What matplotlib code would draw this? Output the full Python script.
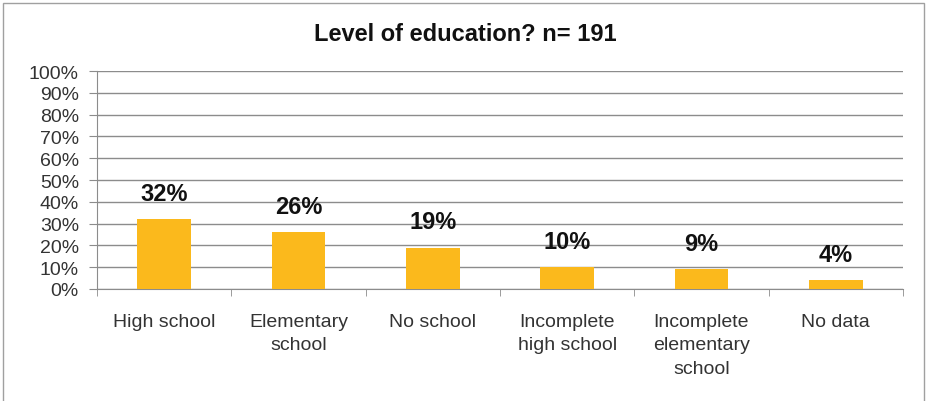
import matplotlib.pyplot as plt
from matplotlib.patches import Rectangle

plt.rcParams['font.family'] = ['Liberation Sans', 'DejaVu Sans']

# Nível de escolaridade dos respondentes
categories = ['High school', 'Elementary\nschool', 'No school',
              'Incomplete\nhigh school', 'Incomplete\nelementary\nschool', 'No data']
percents = [32, 26, 19, 10, 9, 4]
yticks = list(range(0, 101, 10))

fig = plt.figure(figsize=(9.27, 4.02), dpi=100)
ax = fig.add_axes([97 / 927, 112 / 402, 806 / 927, 218 / 402])

# Moldura externa do gráfico
fig.patches.append(Rectangle((0.003, -0.01), 0.994, 1.0, transform=fig.transFigure,
                             fill=False, edgecolor='#a0a0a0', linewidth=1.0))

x = range(len(categories))
bars = ax.bar(x, percents, width=0.4, color='#fbb91c', zorder=3)
for b, v in zip(bars, percents):
    ax.text(b.get_x() + b.get_width() / 2, v + 6.5, f'{v}%', ha='center', va='bottom',
            fontsize=17, fontweight='bold', color='#111111')

ax.set_xlim(-0.5, len(categories) - 0.5)
ax.set_ylim(0, 100)
ax.set_yticks(yticks)
ax.set_yticklabels([f'{t}%' for t in yticks], fontsize=14, color='#333333')
ax.yaxis.grid(True, color='#8c8c8c', linewidth=1.0, zorder=0)
ax.tick_params(axis='y', length=6, color='#8c8c8c', pad=7)

ax.set_xticks(x)
ax.set_xticklabels(categories, fontsize=14, color='#333333', linespacing=1.5)
ax.tick_params(axis='x', length=0, pad=17)
# marcas entre as categorias
ax.set_xticks([i - 0.5 for i in range(len(categories) + 1)], minor=True)
ax.tick_params(axis='x', which='minor', length=5, color='#8c8c8c')

for s in ['top', 'right']:
    ax.spines[s].set_visible(False)
ax.spines['left'].set_color('#8c8c8c')
ax.spines['bottom'].set_color('#8c8c8c')

fig.suptitle('Level of education? n= 191', x=0.502, y=0.942, fontsize=17,
             fontweight='bold', color='#111111')

fig.savefig('out.png', dpi=100)
